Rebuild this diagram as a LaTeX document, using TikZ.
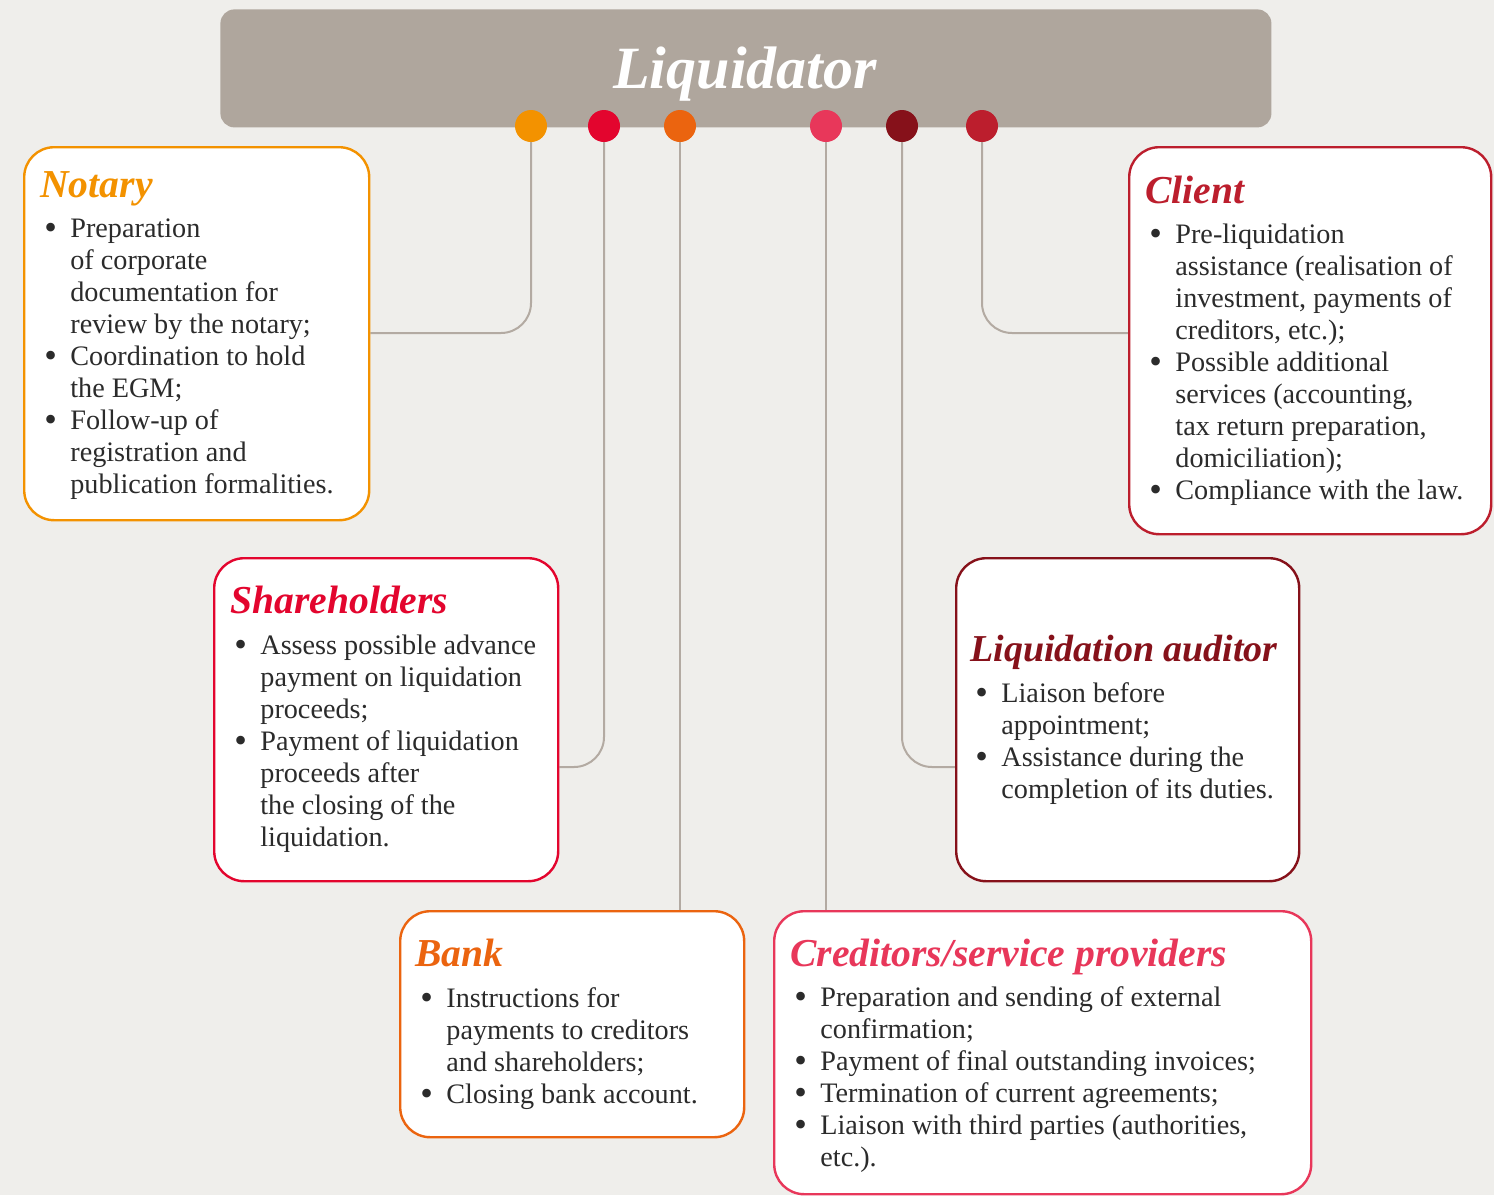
\documentclass[tikz,border=0pt]{standalone}
\usepackage{fontspec}
\setmainfont{Liberation Serif}
\definecolor{pagebg}{HTML}{EFEEEB}
\definecolor{barcol}{HTML}{AFA69D}
\definecolor{linecol}{HTML}{B3AAA2}
\definecolor{txtcol}{HTML}{2B2B2B}
\definecolor{cnot}{HTML}{F39200}
\definecolor{csha}{HTML}{E3052E}
\definecolor{cban}{HTML}{EB640F}
\definecolor{ccre}{HTML}{E8375A}
\definecolor{caud}{HTML}{86111A}
\definecolor{ccli}{HTML}{BC1E2D}
\pgfdeclarelayer{bg}
\pgfdeclarelayer{lines}
\pgfsetlayers{bg,lines,main}
\newcommand{\bul}{\makebox[13pt][l]{\smash{\raisebox{-1pt}{\fontsize{18}{16}\selectfont\textbullet}}}}
\newcommand{\ind}{\hspace*{13pt}}
\tikzset{
  card/.style={draw=#1, fill=white, line width=1.2pt, rounded corners=15pt, anchor=north west, inner sep=0pt},
  cardtitle/.style={text=#1, anchor=base west, inner sep=0pt, font=\fontsize{19.8}{22}\selectfont\bfseries\itshape},
  body/.style={text=txtcol, anchor=north west, inner sep=0pt, align=left, font=\fontsize{14.1}{16}\selectfont},
  dot/.style={circle, fill=#1, minimum size=16pt, inner sep=0pt},
  conn/.style={draw=linecol, line width=1pt, rounded corners=15pt}
}
\begin{document}
\begin{tikzpicture}[x=0.5pt,y=-0.5pt]
\useasboundingbox (0,0) rectangle (1494,1195);
\begin{pgfonlayer}{bg}
\fill[pagebg] (0,0) rectangle (1494,1195);
\end{pgfonlayer}
\clip (0,0) rectangle (1494,1195);
% title bar
\node[fill=barcol, rounded corners=7pt, anchor=north west, minimum width=525.5pt, minimum height=59pt, inner sep=0pt] (bar) at (220,9) {};
\node[text=white, font=\fontsize{30}{34}\selectfont\bfseries\itshape, anchor=base] (title) at (745,88) {Liquidator};
% dots
\node[dot=cnot] (d1) at (531,126) {};
\node[dot=csha] (d2) at (604,126) {};
\node[dot=cban] (d3) at (680,126) {};
\node[dot=ccre] (d4) at (826,126) {};
\node[dot=caud] (d5) at (902,126) {};
\node[dot=ccli] (d6) at (982,126) {};
% boxes
\node[card=cnot, minimum width=172.5pt, minimum height=186.5pt] (notary) at (23,146) {};
\node[card=ccli, minimum width=181pt, minimum height=193.5pt] (client) at (1128,146) {};
\node[card=csha, minimum width=172pt, minimum height=161.5pt] (share) at (213,557) {};
\node[card=caud, minimum width=171.5pt, minimum height=161.5pt] (audit) at (955,557) {};
\node[card=cban, minimum width=172pt, minimum height=113pt] (bank) at (399,910) {};
\node[card=ccre, minimum width=268.5pt, minimum height=141.5pt] (cred) at (773,910) {};
% connectors
\coordinate (y333) at (0,333);
\coordinate (y767) at (0,767);
\begin{pgfonlayer}{lines}
\draw[conn] (d1.center) |- (notary.east |- y333);
\draw[conn] (d6.center) |- (client.west |- y333);
\draw[conn] (d2.center) |- (share.east |- y767);
\draw[conn] (d5.center) |- (audit.west |- y767);
\draw[conn] (d3.center) -- (d3.center |- bank.north);
\draw[conn] (d4.center) -- (d4.center |- cred.north);
\end{pgfonlayer}
% titles
\node[cardtitle=cnot] (tnot) at (40,197) {Notary};
\node[cardtitle=ccli] (tcli) at (1145,203) {Client};
\node[cardtitle=csha] (tsha) at (230,613) {Shareholders};
\node[cardtitle=caud, font=\fontsize{19}{22}\selectfont\bfseries\itshape] (taud) at (970,661) {Liquidation auditor};
\node[cardtitle=cban] (tban) at (415,966) {Bank};
\node[cardtitle=ccre] (tcre) at (790,966) {Creditors/service providers};
% bodies (top = first baseline - 22.4)
\node[body] (bnot) at (44,215) {\strut\bul Preparation\\\ind of corporate\\\ind documentation for\\\ind review by the notary;\\\bul Coordination to hold\\\ind the EGM;\\\bul Follow-up of\\\ind registration and\\\ind publication formalities.};
\node[body] (bcli) at (1149,221) {\strut\bul Pre-liquidation\\\ind assistance (realisation of\\\ind investment, payments of\\\ind creditors, etc.);\\\bul Possible additional\\\ind services (accounting,\\\ind tax return preparation,\\\ind domiciliation);\\\bul Compliance with the law.};
\node[body] (bsha) at (234,632) {\strut\bul Assess possible advance\\\ind payment on liquidation\\\ind proceeds;\\\bul Payment of liquidation\\\ind proceeds after\\\ind the closing of the\\\ind liquidation.};
\node[body] (baud) at (975,680) {\strut\bul Liaison before\\\ind appointment;\\\bul Assistance during the\\\ind completion of its duties.};
\node[body] (bban) at (420,985) {\strut\bul Instructions for\\\ind payments to creditors\\\ind and shareholders;\\\bul Closing bank account.};
\node[body] (bcre) at (794,984) {\strut\bul Preparation and sending of external\\\ind confirmation;\\\bul Payment of final outstanding invoices;\\\bul Termination of current agreements;\\\bul Liaison with third parties (authorities,\\\ind etc.).};
\end{tikzpicture}
\end{document}
